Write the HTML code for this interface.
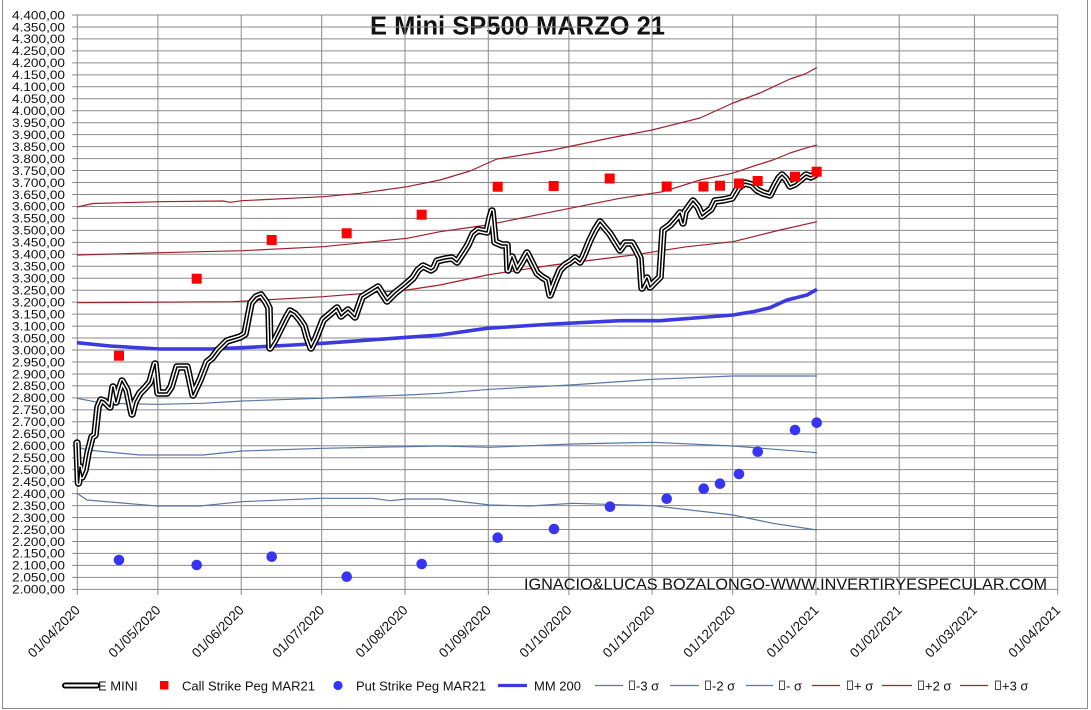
<!DOCTYPE html>
<html><head><meta charset="utf-8"><style>
html,body{margin:0;padding:0;background:#fff;}
svg{display:block;}
text{font-family:"Liberation Sans",Arial,sans-serif;fill:#111;}
</style></head><body>
<svg width="1091" height="710" viewBox="0 0 1091 710" xmlns="http://www.w3.org/2000/svg">
<defs>
<polyline id="em" points="77,443 78.5,483 80,467 82,477 85,470 88,453 92,437 95,435 98,407 101,400 104,401 110,407 113,387 116,402 119,390 122,381 127,390 132,414 135,402 140,393 145,388 150,382 155,364 158,393 167,393 171,387 177,367 187,367 193,395 200,380 207,362 212,358 218,350 227,341 240,337 245,334 251,303 256,297 261,295 266,302 269,308 270,348 275,340 280,330 286,318 290,311 295,314 300,320 304,326 307,337 311,348 316,338 323,320 330,314 337,308 341,316 348,310 355,317 362,297 370,292 378,287 383,295 387,301 392,296 395,293 405,285 413,278 418,270 423,266 431,270 434,268 437,261 445,259 452,258 457,262 463,253 468,245 473,234 478,230 487,232 490,218 492,211 495,242 502,245 507,245 508,270 512,257 517,270 522,262 527,253 532,263 537,273 542,277 547,280 550,295 555,282 560,270 565,265 570,262 575,258 580,262 583,257 590,240 595,230 600,222 605,228 610,234 615,242 620,250 625,243 632,243 636,250 640,258 642,288 647,278 650,287 655,282 660,277 663,230 670,225 677,217 680,213 683,223 685,212 690,205 693,201 698,207 702,216 707,212 711,209 715,201 723,200 732,198 738,188 745,183 752,185 757,190 763,193 770,195 775,185 779,178 782,175 786,179 790,186 795,184 800,180 806,175 811,177 816,174"/>
</defs>
<rect x="0" y="0" width="1091" height="710" fill="#fff"/>
<path d="M2.5 -2V708.5H1087.5V-2" fill="none" stroke="#8c8c8c" stroke-width="1"/>
<text x="517.5" y="34.5" text-anchor="middle" font-size="25.5" font-weight="bold" textLength="295" lengthAdjust="spacingAndGlyphs">E Mini SP500 MARZO 21</text>
<g stroke="#8a8a8a" stroke-width="1" fill="none">
<path d="M72 15H1058M72 26.97H1058M72 38.93H1058M72 50.9H1058M72 62.86H1058M72 74.83H1058M72 86.79H1058M72 98.76H1058M72 110.72H1058M72 122.69H1058M72 134.65H1058M72 146.62H1058M72 158.58H1058M72 170.55H1058M72 182.51H1058M72 194.48H1058M72 206.44H1058M72 218.41H1058M72 230.37H1058M72 242.34H1058M72 254.3H1058M72 266.27H1058M72 278.23H1058M72 290.2H1058M72 302.16H1058M72 314.13H1058M72 326.09H1058M72 338.06H1058M72 350.02H1058M72 361.99H1058M72 373.95H1058M72 385.92H1058M72 397.88H1058M72 409.85H1058M72 421.81H1058M72 433.78H1058M72 445.74H1058M72 457.71H1058M72 469.67H1058M72 481.64H1058M72 493.6H1058M72 505.57H1058M72 517.53H1058M72 529.5H1058M72 541.46H1058M72 553.43H1058M72 565.39H1058M72 577.36H1058M72 589.32H1058"/>
<path d="M77.3 15V595M157.9 15V595M241.2 15V595M321.7 15V595M405 15V595M488.3 15V595M568.9 15V595M652.1 15V595M732.7 15V595M816 15V595M899.2 15V595M974.4 15V595M1057.7 15V595"/>
</g>
<g font-size="12">
<text x="12" y="19.3" textLength="53" lengthAdjust="spacingAndGlyphs">4.400,00</text>
<text x="12" y="31.3" textLength="53" lengthAdjust="spacingAndGlyphs">4.350,00</text>
<text x="12" y="43.2" textLength="53" lengthAdjust="spacingAndGlyphs">4.300,00</text>
<text x="12" y="55.2" textLength="53" lengthAdjust="spacingAndGlyphs">4.250,00</text>
<text x="12" y="67.2" textLength="53" lengthAdjust="spacingAndGlyphs">4.200,00</text>
<text x="12" y="79.1" textLength="53" lengthAdjust="spacingAndGlyphs">4.150,00</text>
<text x="12" y="91.1" textLength="53" lengthAdjust="spacingAndGlyphs">4.100,00</text>
<text x="12" y="103.1" textLength="53" lengthAdjust="spacingAndGlyphs">4.050,00</text>
<text x="12" y="115" textLength="53" lengthAdjust="spacingAndGlyphs">4.000,00</text>
<text x="12" y="127" textLength="53" lengthAdjust="spacingAndGlyphs">3.950,00</text>
<text x="12" y="139" textLength="53" lengthAdjust="spacingAndGlyphs">3.900,00</text>
<text x="12" y="150.9" textLength="53" lengthAdjust="spacingAndGlyphs">3.850,00</text>
<text x="12" y="162.9" textLength="53" lengthAdjust="spacingAndGlyphs">3.800,00</text>
<text x="12" y="174.9" textLength="53" lengthAdjust="spacingAndGlyphs">3.750,00</text>
<text x="12" y="186.8" textLength="53" lengthAdjust="spacingAndGlyphs">3.700,00</text>
<text x="12" y="198.8" textLength="53" lengthAdjust="spacingAndGlyphs">3.650,00</text>
<text x="12" y="210.7" textLength="53" lengthAdjust="spacingAndGlyphs">3.600,00</text>
<text x="12" y="222.7" textLength="53" lengthAdjust="spacingAndGlyphs">3.550,00</text>
<text x="12" y="234.7" textLength="53" lengthAdjust="spacingAndGlyphs">3.500,00</text>
<text x="12" y="246.6" textLength="53" lengthAdjust="spacingAndGlyphs">3.450,00</text>
<text x="12" y="258.6" textLength="53" lengthAdjust="spacingAndGlyphs">3.400,00</text>
<text x="12" y="270.6" textLength="53" lengthAdjust="spacingAndGlyphs">3.350,00</text>
<text x="12" y="282.5" textLength="53" lengthAdjust="spacingAndGlyphs">3.300,00</text>
<text x="12" y="294.5" textLength="53" lengthAdjust="spacingAndGlyphs">3.250,00</text>
<text x="12" y="306.5" textLength="53" lengthAdjust="spacingAndGlyphs">3.200,00</text>
<text x="12" y="318.4" textLength="53" lengthAdjust="spacingAndGlyphs">3.150,00</text>
<text x="12" y="330.4" textLength="53" lengthAdjust="spacingAndGlyphs">3.100,00</text>
<text x="12" y="342.4" textLength="53" lengthAdjust="spacingAndGlyphs">3.050,00</text>
<text x="12" y="354.3" textLength="53" lengthAdjust="spacingAndGlyphs">3.000,00</text>
<text x="12" y="366.3" textLength="53" lengthAdjust="spacingAndGlyphs">2.950,00</text>
<text x="12" y="378.3" textLength="53" lengthAdjust="spacingAndGlyphs">2.900,00</text>
<text x="12" y="390.2" textLength="53" lengthAdjust="spacingAndGlyphs">2.850,00</text>
<text x="12" y="402.2" textLength="53" lengthAdjust="spacingAndGlyphs">2.800,00</text>
<text x="12" y="414.2" textLength="53" lengthAdjust="spacingAndGlyphs">2.750,00</text>
<text x="12" y="426.1" textLength="53" lengthAdjust="spacingAndGlyphs">2.700,00</text>
<text x="12" y="438.1" textLength="53" lengthAdjust="spacingAndGlyphs">2.650,00</text>
<text x="12" y="450" textLength="53" lengthAdjust="spacingAndGlyphs">2.600,00</text>
<text x="12" y="462" textLength="53" lengthAdjust="spacingAndGlyphs">2.550,00</text>
<text x="12" y="474" textLength="53" lengthAdjust="spacingAndGlyphs">2.500,00</text>
<text x="12" y="485.9" textLength="53" lengthAdjust="spacingAndGlyphs">2.450,00</text>
<text x="12" y="497.9" textLength="53" lengthAdjust="spacingAndGlyphs">2.400,00</text>
<text x="12" y="509.9" textLength="53" lengthAdjust="spacingAndGlyphs">2.350,00</text>
<text x="12" y="521.8" textLength="53" lengthAdjust="spacingAndGlyphs">2.300,00</text>
<text x="12" y="533.8" textLength="53" lengthAdjust="spacingAndGlyphs">2.250,00</text>
<text x="12" y="545.8" textLength="53" lengthAdjust="spacingAndGlyphs">2.200,00</text>
<text x="12" y="557.7" textLength="53" lengthAdjust="spacingAndGlyphs">2.150,00</text>
<text x="12" y="569.7" textLength="53" lengthAdjust="spacingAndGlyphs">2.100,00</text>
<text x="12" y="581.7" textLength="53" lengthAdjust="spacingAndGlyphs">2.050,00</text>
<text x="12" y="593.6" textLength="53" lengthAdjust="spacingAndGlyphs">2.000,00</text>
</g>
<g font-size="13.5" text-anchor="end">
<text transform="translate(80.8 611) rotate(-45)" textLength="67" lengthAdjust="spacingAndGlyphs">01/04/2020</text>
<text transform="translate(161.4 611) rotate(-45)" textLength="67" lengthAdjust="spacingAndGlyphs">01/05/2020</text>
<text transform="translate(244.7 611) rotate(-45)" textLength="67" lengthAdjust="spacingAndGlyphs">01/06/2020</text>
<text transform="translate(325.2 611) rotate(-45)" textLength="67" lengthAdjust="spacingAndGlyphs">01/07/2020</text>
<text transform="translate(408.5 611) rotate(-45)" textLength="67" lengthAdjust="spacingAndGlyphs">01/08/2020</text>
<text transform="translate(491.8 611) rotate(-45)" textLength="67" lengthAdjust="spacingAndGlyphs">01/09/2020</text>
<text transform="translate(572.4 611) rotate(-45)" textLength="67" lengthAdjust="spacingAndGlyphs">01/10/2020</text>
<text transform="translate(655.6 611) rotate(-45)" textLength="67" lengthAdjust="spacingAndGlyphs">01/11/2020</text>
<text transform="translate(736.2 611) rotate(-45)" textLength="67" lengthAdjust="spacingAndGlyphs">01/12/2020</text>
<text transform="translate(819.5 611) rotate(-45)" textLength="67" lengthAdjust="spacingAndGlyphs">01/01/2021</text>
<text transform="translate(902.7 611) rotate(-45)" textLength="67" lengthAdjust="spacingAndGlyphs">01/02/2021</text>
<text transform="translate(977.9 611) rotate(-45)" textLength="67" lengthAdjust="spacingAndGlyphs">01/03/2021</text>
<text transform="translate(1061.2 611) rotate(-45)" textLength="67" lengthAdjust="spacingAndGlyphs">01/04/2021</text>
</g>
<text x="524" y="589.5" font-size="16" textLength="523" lengthAdjust="spacingAndGlyphs" fill="#000">IGNACIO&amp;LUCAS BOZALONGO-WWW.INVERTIRYESPECULAR.COM</text>
<g fill="none" stroke-width="1.2" stroke-linejoin="round">
<polyline stroke="#a3202c" points="77,207 93,203.5 160,201.7 223,201 230,202.3 242,200.7 323,196.7 360,193.3 407,186.7 440,180 470,171 497,159 553,150 610,138 652,130 700,118 733,103 760,93 790,79 805,74 817,67.5"/>
<polyline stroke="#a3202c" points="77,255 160,252.7 242,250.7 323,246.7 407,238.3 440,231.7 487,225 553,211.7 620,198.3 663,191.7 700,180 732,173.3 757,165 773,160 790,153 805,148.3 817,145"/>
<polyline stroke="#a3202c" points="77,302.7 233,301.7 323,296.7 407,290 440,285 487,275 553,265 633,255 687,246.7 733,241.7 780,230 817,221.7"/>
<polyline stroke="#5577a6" points="77,398.3 103,403.3 157,404.3 203,403.3 242,401 320,398.3 360,396.7 407,395 440,393.3 490,389.3 570,385 653,379.3 733,376 817,376"/>
<polyline stroke="#5577a6" points="77,446.7 87,450 140,455 203,455 242,451 323,448.3 440,446 490,447.3 573,444 653,442.3 733,446 817,452.7"/>
<polyline stroke="#5577a6" points="77,493.3 87,500 157,506 200,506 242,501.7 320,498.3 373,498.3 390,500.7 407,499 440,499 490,505 530,506 573,503.3 653,505.7 733,515 773,523.3 817,530"/>
<polyline stroke="#3a3ae0" stroke-width="3.6" points="77,342.7 110,346 160,349 210,349 242,347.7 293,345 323,343.3 360,340.7 407,337.3 440,335 487,328.3 553,324 620,320.7 660,320.7 733,315 753,311.7 770,307.7 787,300 807,295 817,289.3"/>
</g>
<g fill="none" stroke-linejoin="round" stroke-linecap="round">
<use href="#em" stroke="#000" stroke-width="7.5"/>
<use href="#em" stroke="#fff" stroke-width="4.5"/>
<use href="#em" stroke="#000" stroke-width="1.5"/>
</g>
<g fill="#ff0000">
<rect x="114" y="350.7" width="10" height="10"/>
<rect x="191.7" y="273.7" width="10" height="10"/>
<rect x="266.7" y="235" width="10" height="10"/>
<rect x="341.7" y="228.3" width="10" height="10"/>
<rect x="416.7" y="209.7" width="10" height="10"/>
<rect x="492.7" y="181.7" width="10" height="10"/>
<rect x="548.7" y="181" width="10" height="10"/>
<rect x="604.7" y="173.5" width="10" height="10"/>
<rect x="661.7" y="181.5" width="10" height="10"/>
<rect x="698.5" y="181.5" width="10" height="10"/>
<rect x="715" y="180.7" width="10" height="10"/>
<rect x="734" y="178.5" width="10" height="10"/>
<rect x="752.7" y="176" width="10" height="10"/>
<rect x="790" y="171.7" width="10" height="10"/>
<rect x="811.7" y="166.7" width="10" height="10"/>
</g>
<g fill="#3636f2">
<circle cx="119" cy="560" r="5.3"/>
<circle cx="196.7" cy="565" r="5.3"/>
<circle cx="271.7" cy="556.7" r="5.3"/>
<circle cx="346.7" cy="576.7" r="5.3"/>
<circle cx="421.7" cy="564" r="5.3"/>
<circle cx="497.7" cy="537.7" r="5.3"/>
<circle cx="554" cy="529" r="5.3"/>
<circle cx="610" cy="506.7" r="5.3"/>
<circle cx="666.7" cy="498.7" r="5.3"/>
<circle cx="703.7" cy="488.7" r="5.3"/>
<circle cx="720" cy="483.7" r="5.3"/>
<circle cx="739" cy="474" r="5.3"/>
<circle cx="757.7" cy="451.7" r="5.3"/>
<circle cx="795" cy="430" r="5.3"/>
<circle cx="816.7" cy="422.7" r="5.3"/>
</g>
<!-- legend -->
<g font-size="13">
<path d="M65 685.5H97" stroke="#000" stroke-width="6" stroke-linecap="round"/>
<path d="M65 685.5H97" stroke="#fff" stroke-width="2.2" stroke-linecap="round"/>
<text x="98" y="690.5">E MINI</text>
<rect x="160" y="681" width="8.5" height="8.5" fill="#ff0000"/>
<text x="182" y="690.5">Call Strike Peg MAR21</text>
<circle cx="338" cy="685.5" r="4.6" fill="#3636f2"/>
<text x="356" y="690.5">Put Strike Peg MAR21</text>
<path d="M498 685.5H527" stroke="#3a3ae0" stroke-width="3.2"/>
<text x="534" y="690.5">MM 200</text>
<path d="M595 685.5H623M670 685.5H699M746 685.5H773" stroke="#5577a6" stroke-width="1.2"/>
<path d="M812 685.5H840M882 685.5H912M960 685.5H988" stroke="#a3202c" stroke-width="1.2"/>
<g fill="none" stroke="#222" stroke-width="0.8">
<rect x="629.5" y="681" width="5" height="8.5"/>
<rect x="705.5" y="681" width="5" height="8.5"/>
<rect x="779.5" y="681" width="5" height="8.5"/>
<rect x="847.5" y="681" width="5" height="8.5"/>
<rect x="918.5" y="681" width="5" height="8.5"/>
<rect x="995.5" y="681" width="5" height="8.5"/>
</g>
<text x="636" y="690.5">-3 σ</text>
<text x="712" y="690.5">-2 σ</text>
<text x="786" y="690.5">- σ</text>
<text x="854" y="690.5">+ σ</text>
<text x="925" y="690.5">+2 σ</text>
<text x="1002" y="690.5">+3 σ</text>
</g>
</svg>
</body></html>
